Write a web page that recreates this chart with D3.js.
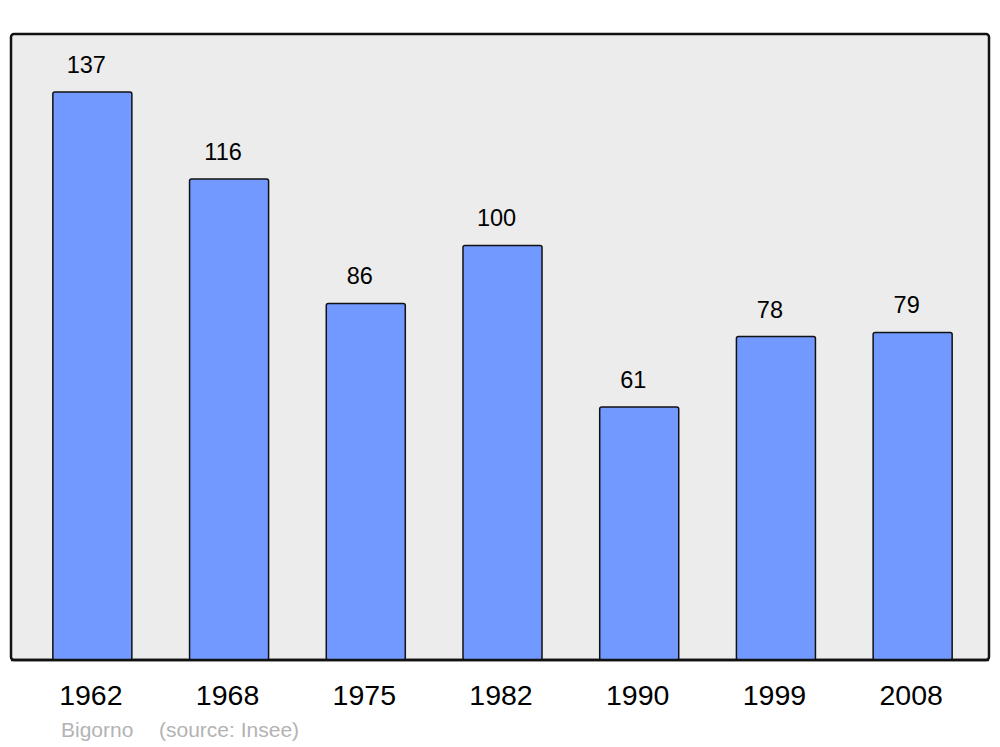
<!DOCTYPE html>
<html><head><meta charset="utf-8">
<script src="https://cdn.jsdelivr.net/npm/d3@7"></script>
<style>body{margin:0;background:#fff;}svg{display:block;font-family:"Liberation Sans",Arial,sans-serif;}</style>
</head><body>
<svg id="chart" width="1000" height="747"></svg>
<script>
const years = ["1962","1968","1975","1982","1990","1999","2008"];
const population = [137,116,86,100,61,78,79];
const footerName = "Bigorno";
const footerSource = "(source: Insee)";

const svg = d3.select("#chart");
const plot = {left:11, top:34, right:989, bottom:660};

svg.append("rect").attr("x",plot.left).attr("y",plot.top)
  .attr("width",plot.right-plot.left).attr("height",plot.bottom-plot.top)
  .attr("rx",3).attr("fill","#ececec").attr("stroke","#111").attr("stroke-width",2.5);

const x = d3.scaleBand().domain(years).range([24,981]).paddingInner(0.422).paddingOuter(0.211);
const y = d3.scaleLinear().domain([0,137]).range([plot.bottom, 92]);

const g = svg.append("g");
g.selectAll("rect.bar").data(years).join("rect").attr("class","bar")
  .attr("x",d=>x(d)).attr("width",x.bandwidth())
  .attr("y",(d,i)=>y(population[i])).attr("height",(d,i)=>plot.bottom-y(population[i]))
  .attr("rx",2).attr("fill","#7299ff").attr("stroke","#111").attr("stroke-width",1.5);

g.selectAll("text.val").data(years).join("text").attr("class","val")
  .attr("x",d=>x(d)+x.bandwidth()/2-6).attr("y",(d,i)=>y(population[i])-19)
  .attr("text-anchor","middle").attr("font-size",23.5).attr("fill","#000")
  .text((d,i)=>population[i]);

// redraw frame bottom over bars
svg.append("line").attr("x1",plot.left).attr("x2",plot.right).attr("y1",plot.bottom).attr("y2",plot.bottom)
  .attr("stroke","#111").attr("stroke-width",2.5);

const xAxis = d3.axisBottom(x).tickSize(0).tickPadding(0);
const ax = svg.append("g").attr("transform",`translate(0,${plot.bottom})`).call(xAxis);
ax.select(".domain").remove();
ax.selectAll("text").attr("font-size",28.5).attr("fill","#000")
  .attr("font-family","'Liberation Sans',Arial,sans-serif").attr("dy",0).attr("y",45).attr("dx",-1.5);

svg.append("text").attr("x",61).attr("y",737).attr("font-size",21).attr("fill","#b3b3b3").text(footerName);
svg.append("text").attr("x",159).attr("y",737).attr("font-size",21).attr("fill","#b3b3b3").text(footerSource);
</script>
</body></html>
